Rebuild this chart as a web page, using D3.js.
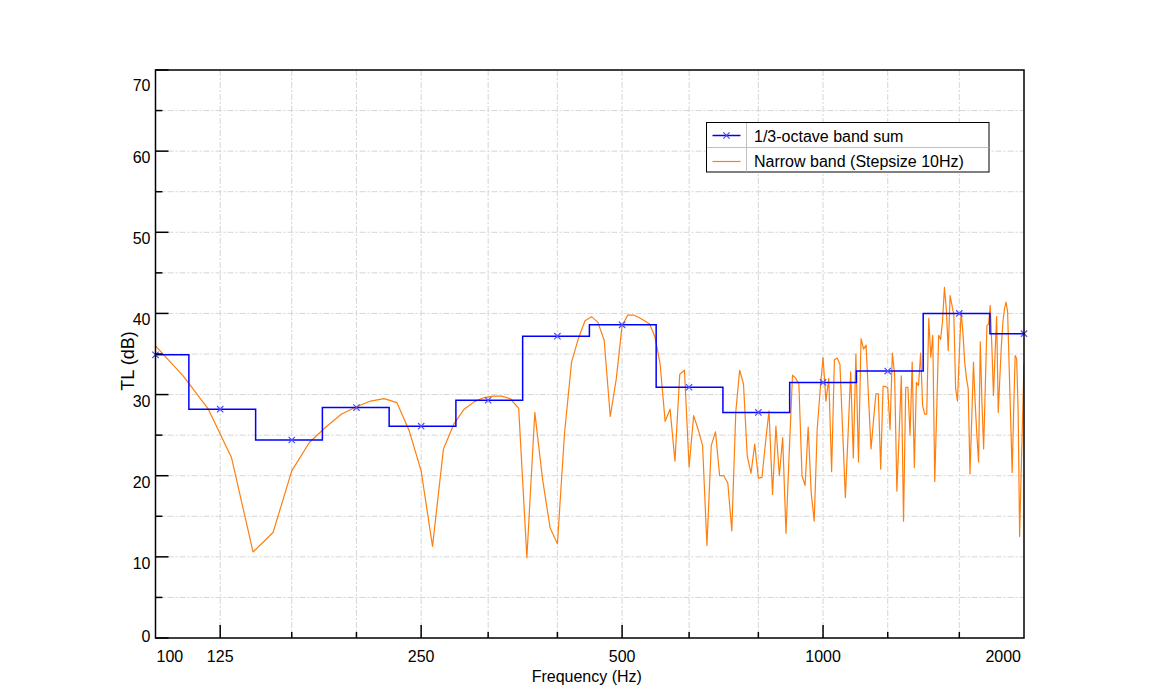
<!DOCTYPE html>
<html>
<head>
<meta charset="utf-8">
<script src="https://cdn.jsdelivr.net/npm/d3@7"></script>
<style>
  html, body { margin: 0; padding: 0; background: #fff; }
  svg { display: block; font-family: "Liberation Sans", Arial, Helvetica, sans-serif; }
</style>
</head>
<body>
<svg id="chart" width="1159" height="696"></svg>
<script>
// ---------------- data ----------------
const bandCenters = [100, 125, 160, 200, 250, 315, 400, 500, 630, 800, 1000, 1250, 1600, 2000];
const bandTL      = [34.9, 28.2, 24.4, 28.4, 26.1, 29.3, 37.2, 38.6, 30.9, 27.8, 31.5, 32.9, 40.0, 37.5];

const narrowFreq = d3.range(100, 2001, 10);
const narrowTL = [
  36.0, 32.3, 28.2, 22.2, 10.6, 13.0, 20.6, 24.1, 26.0, 27.6,   // 100-190
  28.5, 29.2, 29.5, 29.0, 25.5, 20.6, 11.3, 23.3, 26.4, 28.2,   // 200-290
  29.1, 29.6, 29.8, 29.8, 29.5, 28.3,  9.9, 27.8, 19.6, 13.6,   // 300-390
  11.6, 25.3, 34.0, 36.9, 39.1, 39.6, 38.9, 36.7, 27.3, 31.9,   // 400-490
  38.5, 39.8, 39.8, 39.5, 39.1, 38.7, 37.1, 33.8, 26.7, 28.2,   // 500-590
  21.8, 32.5, 33.0, 21.1, 27.4, 25.7, 23.7, 11.4, 23.7, 25.4,   // 600-690
  20.0, 20.0, 19.1, 13.2, 27.8, 33.0, 31.3, 22.4, 20.3, 23.9,   // 700-790
  19.7, 19.8, 24.1, 28.0, 17.7, 26.1, 20.0, 24.7, 12.9, 23.0,   // 800-890
  32.4, 32.0, 31.3, 20.0, 18.8, 26.0, 17.9, 14.4, 25.7, 30.5,   // 900-990
  34.6, 29.2, 32.0, 20.5, 34.3, 34.5, 33.7, 25.5, 17.3, 25.0,   // 1000-1090
  32.8, 22.2, 35.0, 21.7, 36.9, 35.6, 36.1, 29.5, 23.3, 26.8,   // 1100-1190
  30.1, 30.1, 20.8, 31.0, 31.0, 30.8, 25.7, 35.1, 32.5, 18.1,   // 1200-1290
  25.0, 32.3, 14.4, 30.9, 30.9, 25.0, 34.0, 21.0, 31.5, 31.1,   // 1300-1390
  35.1, 28.6, 27.6, 27.6, 39.4, 34.6, 37.3, 19.3, 28.0, 37.3,   // 1400-1490
  36.8, 39.0, 43.2, 40.5, 35.4, 42.2, 41.0, 39.8, 30.7, 29.2,   // 1500-1590
  35.0, 40.2, 37.7, 34.0, 32.0, 30.7, 20.2, 27.0, 34.0, 29.0,   // 1600-1690
  25.0, 21.7, 36.5, 29.0, 23.3, 31.0, 38.5, 38.7, 41.0, 36.0,   // 1700-1790
  29.9, 35.0, 39.6, 27.8, 32.0, 36.1, 39.0, 40.6, 41.4, 40.2,   // 1800-1890
  33.6, 27.0, 20.4, 28.0, 34.8, 34.4, 28.0, 12.5, 20.0, 27.0,   // 1900-1990
  33.8                                                          // 2000
];

const xTickValues = [100, 125, 250, 500, 1000, 2000];
const xTickLabels = ["100", "125", "250", "500", "1000", "2000"];
const xMajorTicks = [125, 250, 500, 1000];
const xMinorTicks = [160, 200, 315, 400, 630, 800, 1250, 1600];
const yTickValues = [0, 10, 20, 30, 40, 50, 60, 70];
const yMinorTicks = [5, 15, 25, 35, 45, 55, 65];

const legendLabels = ["1/3-octave band sum", "Narrow band (Stepsize 10Hz)"];

// ---------------- layout ----------------
const L = 155.5, R = 1024, T = 70, B = 638;
const svg = d3.select("#chart");
svg.append("rect").attr("width", 1159).attr("height", 696).attr("fill", "#fff");

const x = d3.scaleLog().domain([100, 2000]).range([L, R]);
const y = d3.scaleLinear().domain([0, 70]).range([B, T]);

// grid
const gridColor = "#d6d6d6";
const grid = svg.append("g");
grid.selectAll("line.vg").data(xMajorTicks.concat(xMinorTicks)).join("line")
  .attr("x1", d => x(d)).attr("x2", d => x(d)).attr("y1", T).attr("y2", B)
  .attr("stroke", gridColor).attr("stroke-width", 1).attr("stroke-dasharray", "6,2,2,2");
grid.selectAll("line.hg").data(yTickValues.slice(1, -1).concat(yMinorTicks)).join("line")
  .attr("x1", L).attr("x2", R).attr("y1", d => y(d)).attr("y2", d => y(d))
  .attr("stroke", gridColor).attr("stroke-width", 1).attr("stroke-dasharray", "6,2,2,2");

// clip
svg.append("clipPath").attr("id", "clip").append("rect")
  .attr("x", L).attr("y", T).attr("width", R - L).attr("height", B - T);

const plot = svg.append("g").attr("clip-path", "url(#clip)");

// narrow band line
const narrowData = narrowFreq.map((f, i) => [f, narrowTL[i]]);
plot.append("path")
  .datum(narrowData)
  .attr("fill", "none").attr("stroke", "#ff7f0e").attr("stroke-width", 1.2)
  .attr("stroke-linejoin", "round")
  .attr("d", d3.line().x(d => x(d[0])).y(d => y(d[1])));

// 1/3-octave step line: band edges from exact base-10 third-octave centres
const exactCenter = c => Math.pow(10, Math.round(10 * Math.log10(c)) / 10);
const stepPts = bandCenters.map((c, i) => [exactCenter(c) * Math.pow(10, -0.05), bandTL[i]]);
stepPts.push([exactCenter(2000) * Math.pow(10, 0.05), bandTL[bandTL.length - 1]]);
plot.append("path")
  .datum(stepPts)
  .attr("fill", "none").attr("stroke", "#0000ff").attr("stroke-width", 1.5)
  .attr("d", d3.line().curve(d3.curveStepAfter).x(d => x(d[0])).y(d => y(d[1])));

// markers
const mk = d3.symbol().type(d3.symbolX).size(28);
svg.append("g").selectAll("path").data(bandCenters).join("path")
  .attr("transform", (d, i) => `translate(${x(d)},${y(bandTL[i])})`)
  .attr("d", mk).attr("fill", "none").attr("stroke", "#4d4dff").attr("stroke-width", 1.2);

// frame
svg.append("rect").attr("x", L).attr("y", T).attr("width", R - L).attr("height", B - T)
  .attr("fill", "none").attr("stroke", "#000").attr("stroke-width", 1.5);

// ticks (inside)
const ticks = svg.append("g").attr("stroke", "#000").attr("stroke-width", 1.5);
ticks.selectAll("line.ym").data(yTickValues).join("line")
  .attr("x1", L).attr("x2", L + 13).attr("y1", d => y(d)).attr("y2", d => y(d));
ticks.selectAll("line.yn").data(yMinorTicks).join("line")
  .attr("x1", L).attr("x2", L + 7).attr("y1", d => y(d)).attr("y2", d => y(d));
ticks.selectAll("line.xm").data(xMajorTicks).join("line")
  .attr("x1", d => x(d)).attr("x2", d => x(d)).attr("y1", B).attr("y2", B - 13);
ticks.selectAll("line.xn").data(xMinorTicks).join("line")
  .attr("x1", d => x(d)).attr("x2", d => x(d)).attr("y1", B).attr("y2", B - 6);

// tick labels (y labels hang just below their tick, as in the reference)
svg.append("g").selectAll("text").data(yTickValues).join("text")
  .attr("x", L - 5)
  .attr("y", d => d === 0 ? y(d) + 3.5 : (d === 70 ? y(d) + 21 : y(d) + 12))
  .attr("text-anchor", "end")
  .attr("font-size", 16).attr("fill", "#000").text(d => d);

svg.append("g").selectAll("text").data(xTickValues).join("text")
  .attr("x", (d, i) => i === 0 ? x(d) + 1 : (i === xTickValues.length - 1 ? x(d) - 3 : x(d)))
  .attr("y", 662)
  .attr("text-anchor", (d, i) => i === 0 ? "start" : (i === xTickValues.length - 1 ? "end" : "middle"))
  .attr("font-size", 16).attr("fill", "#000").text((d, i) => xTickLabels[i]);

// axis titles
svg.append("text").attr("x", (L + R) / 2 - 3).attr("y", 682).attr("text-anchor", "middle")
  .attr("font-size", 16).text("Frequency (Hz)");
svg.append("text").attr("transform", "translate(134, 361) rotate(-90)")
  .attr("text-anchor", "middle").attr("font-size", 18).text("TL (dB)");

// legend
const lg = svg.append("g");
lg.append("rect").attr("x", 706.5).attr("y", 122.5).attr("width", 282.5).attr("height", 49.5)
  .attr("fill", "#fff").attr("stroke", "#000").attr("stroke-width", 1);
lg.append("line").attr("x1", 746.5).attr("x2", 746.5).attr("y1", 123).attr("y2", 171.5)
  .attr("stroke", "#c0c0c0").attr("stroke-width", 1);
lg.append("line").attr("x1", 707).attr("x2", 988.5).attr("y1", 147.5).attr("y2", 147.5)
  .attr("stroke", "#c0c0c0").attr("stroke-width", 1);
lg.append("line").attr("x1", 712.5).attr("x2", 740.5).attr("y1", 135.5).attr("y2", 135.5)
  .attr("stroke", "#0000ff").attr("stroke-width", 1.5);
lg.append("path").attr("transform", "translate(726.5,135.5)").attr("d", mk)
  .attr("fill", "none").attr("stroke", "#4d4dff").attr("stroke-width", 1.2);
lg.append("line").attr("x1", 712.5).attr("x2", 740.5).attr("y1", 161.5).attr("y2", 161.5)
  .attr("stroke", "#ff7f0e").attr("stroke-width", 1.2);
lg.selectAll("text").data(legendLabels).join("text")
  .attr("x", 754).attr("y", (d, i) => 141.5 + i * 25.5)
  .attr("font-size", 16).attr("fill", "#000").text(d => d);
</script>
</body>
</html>
